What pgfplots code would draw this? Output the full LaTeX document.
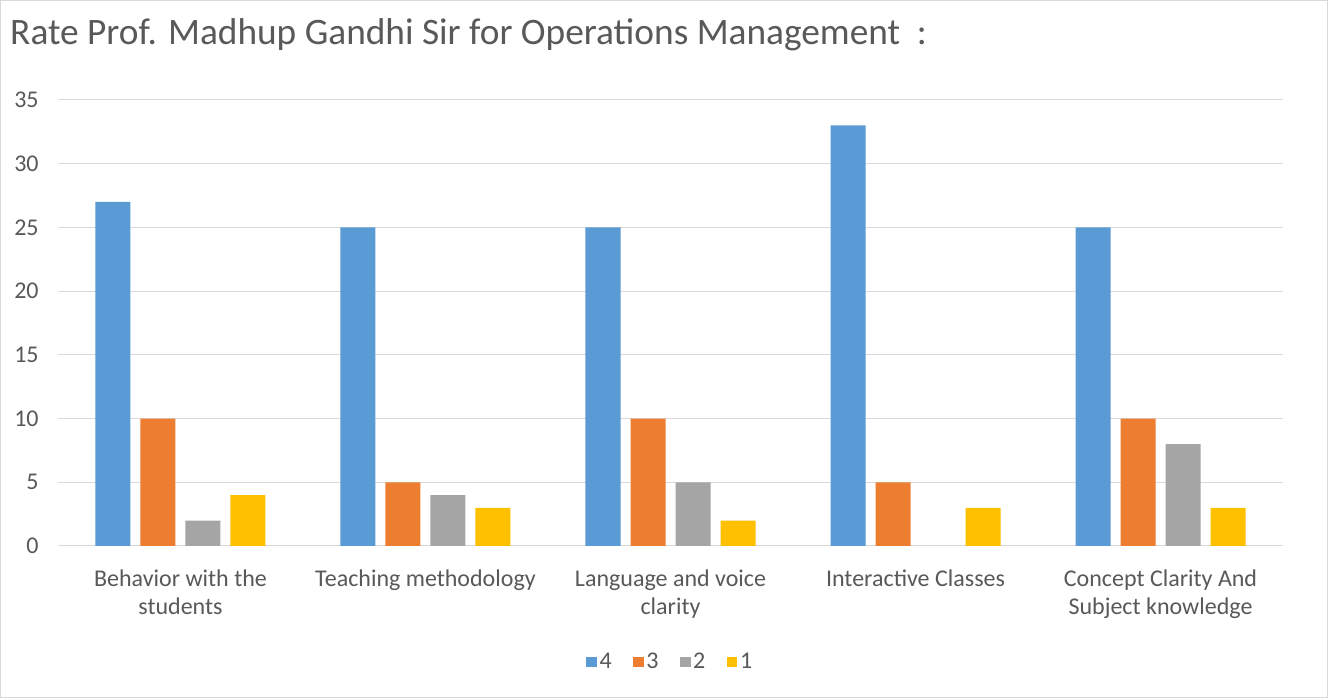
\documentclass[border=0pt]{standalone}
\usepackage{pgfplots}
\pgfplotsset{compat=1.18}
\usepackage{fontspec}
\setmainfont{Carlito}
\definecolor{cblue}{HTML}{5B9BD5}
\definecolor{corange}{HTML}{ED7D31}
\definecolor{cgray}{HTML}{A5A5A5}
\definecolor{cyellow}{HTML}{FFC000}
\definecolor{gridc}{HTML}{D9D9D9}
\definecolor{textc}{HTML}{595959}
\begin{document}
\begin{tikzpicture}[x=1pt,y=1pt]
\draw[draw=gridc, line width=0.75pt, fill=white] (0.4,0.4) rectangle (995.6,523.1);
\node[anchor=west, inner sep=0pt, text=textc, font=\fontsize{28}{32}\selectfont] at (7.5,497.5) {Rate Prof. Madhup Gandhi Sir for Operations Management\ \ :};
\begin{axis}[
  at={(43.5pt,114pt)}, anchor=south west,
  scale only axis, width=918.75pt, height=334.5pt,
  xmin=-0.5, xmax=4.5, ymin=0, ymax=35,
  ytick={0,5,...,35},
  xtick={0,1,2,3,4},
  xticklabels={{Behavior with the\\students},{Teaching methodology},{Language and voice\\clarity},{Interactive Classes},{Concept Clarity And\\Subject knowledge}},
  xticklabel style={align=center, text=textc, font=\fontsize{18}{21}\selectfont, yshift=-14pt},
  yticklabel style={text=textc, font=\fontsize{18}{21}\selectfont, xshift=-11pt},
  /pgf/number format/assume math mode=true,
  major tick length=0pt,
  axis line style={draw=none},
  ymajorgrids, grid style={gridc, line width=0.75pt},
  ybar=0pt, bar width=26.25pt,
  legend style={at={(0.5,-0.26)}, anchor=center, draw=none, legend columns=4,
    font=\fontsize{18}{21}\selectfont, text=textc,
    /tikz/every even column/.append style={column sep=14pt}},
  legend image code/.code={\fill[#1] (0pt,-4pt) rectangle (8pt,4pt);},
]
\addplot[fill=cblue, draw=none, bar shift=-50.625pt] coordinates {(0,27) (1,25) (2,25) (3,33) (4,25)};
\addplot[fill=corange, draw=none, bar shift=-16.875pt] coordinates {(0,10) (1,5) (2,10) (3,5) (4,10)};
\addplot[fill=cgray, draw=none, bar shift=16.875pt] coordinates {(0,2) (1,4) (2,5) (4,8)};
\addplot[fill=cyellow, draw=none, bar shift=50.625pt] coordinates {(0,4) (1,3) (2,2) (3,3) (4,3)};
\legend{4,3,2,1}
\end{axis}
\end{tikzpicture}
\end{document}
